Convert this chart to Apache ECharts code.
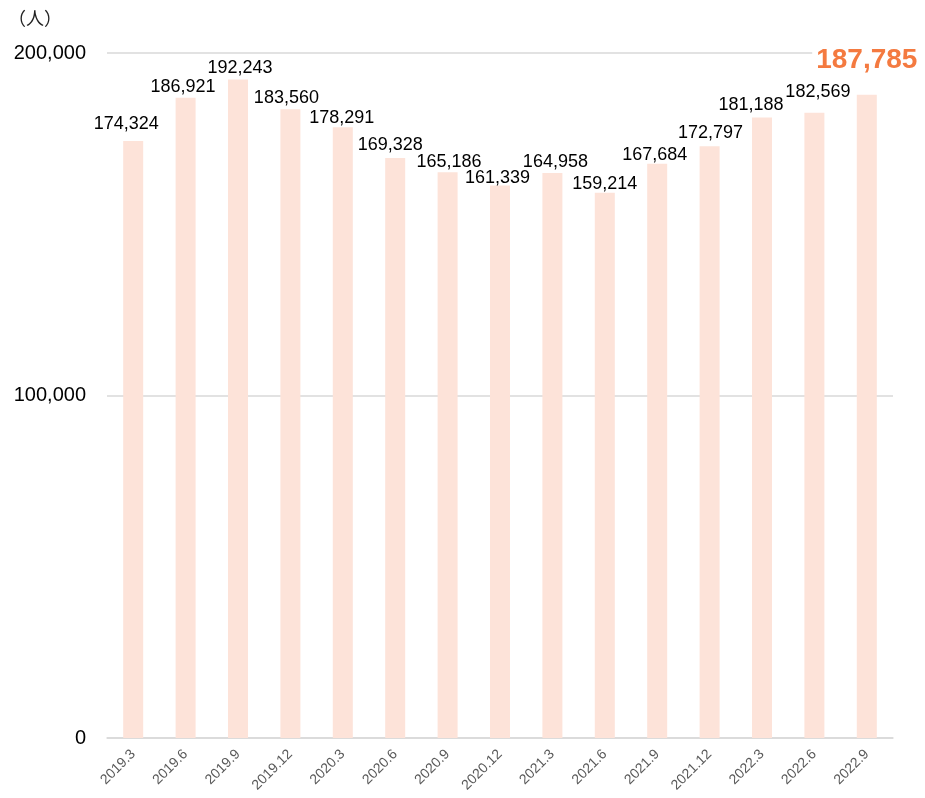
<!DOCTYPE html>
<html>
<head>
<meta charset="utf-8">
<script src="https://cdn.jsdelivr.net/npm/echarts@6/dist/echarts.min.js"></script>
<style>
  html, body { margin: 0; padding: 0; background: #fff; }
  #chart { width: 925px; height: 798px; }
</style>
</head>
<body>
<div id="chart"></div>
<script>
const categories = ['2019.3', '2019.6', '2019.9', '2019.12', '2020.3', '2020.6', '2020.9', '2020.12',
  '2021.3', '2021.6', '2021.9', '2021.12', '2022.3', '2022.6', '2022.9']
const people = [174324, 186921, 192243, 183560, 178291, 169328, 165186, 161339,
  164958, 159214, 167684, 172797, 181188, 182569, 187785]
const yTicks = [0, 100000, 200000]

// value labels in the original are nudged by hand; keep those nudges (px) apart from the data
const labelDx = [-7, -2.5, 2, -4, -1, -5, 1.5, -2.5, 3, 0, -2.5, 1, -11, 3.5, 0]
const labelGap = [11, 5, 6, 6, 4, 8, 5, 2, 5, 3, 3, 8, 7, 15, 0]

const fmt = v => v.toLocaleString('en-US')
const lastIdx = people.length - 1

const chart = echarts.init(document.getElementById('chart'))

chart.setOption({
  animation: false,
  textStyle: { fontFamily: 'Liberation Sans, Arial, sans-serif' },
  title: {
    text: '（人）',
    left: 3,
    top: 4,
    textStyle: { fontSize: 18, fontWeight: 'normal', color: '#222', fontFamily: 'Noto Sans CJK JP' }
  },
  grid: { left: 107, right: 32, top: 53, bottom: 60 },
  xAxis: {
    type: 'category',
    data: categories,
    axisLine: { lineStyle: { color: '#d9d9d9', width: 1.5 } },
    axisTick: { show: false },
    axisLabel: { rotate: 45, color: '#595959', fontSize: 14, margin: 14 }
  },
  yAxis: {
    type: 'value',
    min: yTicks[0],
    max: yTicks[yTicks.length - 1],
    interval: yTicks[1] - yTicks[0],
    axisLine: { show: false },
    axisTick: { show: false },
    splitLine: { lineStyle: { color: '#d9d9d9', width: 1.5 } },
    axisLabel: { formatter: fmt, color: '#000', fontSize: 20, margin: 21 }
  },
  series: [{
    type: 'bar',
    barWidth: 20,
    itemStyle: { color: '#fde3d9' },
    label: {
      show: true,
      position: 'top',
      distance: 0,
      color: '#000',
      fontSize: 18,
      formatter: p => fmt(p.value)
    },
    data: people.map((v, i) => i === lastIdx ? {
      value: v,
      label: {
        distance: 21,
        color: '#f47a40',
        fontSize: 28,
        fontWeight: 'bold',
        backgroundColor: '#fff',
        padding: [0, 4]
      }
    } : {
      value: v,
      label: { offset: [labelDx[i], -(labelGap[i] - 3.5)] }
    })
  }]
})
</script>
</body>
</html>
